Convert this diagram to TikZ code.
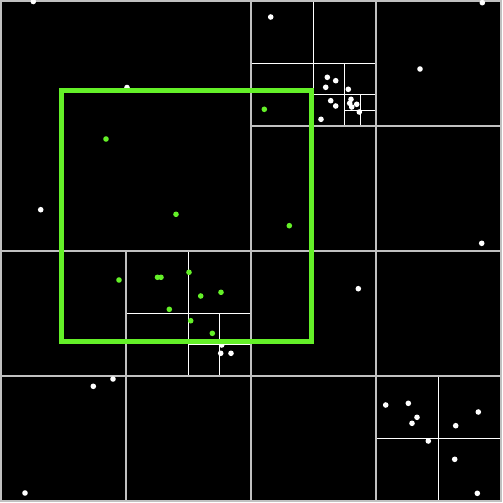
\documentclass[tikz,border=0pt]{standalone}
\definecolor{qgreen}{RGB}{100,240,40}
\definecolor{qgray}{RGB}{192,192,192}
\tikzset{
  majorline/.style={draw=qgray, line width=0.04cm},
  minorline/.style={draw=white, line width=0.02cm},
  wdot/.style={fill=white},
  gdot/.style={fill=qgreen},
  queryrect/.style={draw=qgreen, line width=0.1cm},
}
\begin{document}
\begin{tikzpicture}[x=0.02cm, y=-0.02cm]
\useasboundingbox (0,0) rectangle (503,503);
\fill[white] (0,0) rectangle (503,503);
\fill[black] (0,0) rectangle (502,502);
\begin{scope}[shift={(1,1)}]
% minor subdivisions
\draw[minorline] (312.5,0) -- (312.5,125) (250,62.5) -- (375,62.5);
\draw[minorline] (343.75,62.5) -- (343.75,125) (312.5,93.75) -- (375,93.75);
\draw[minorline] (359.375,93.75) -- (359.375,125) (343.75,109.375) -- (375,109.375);
\draw[minorline] (187.5,250) -- (187.5,375) (125,312.5) -- (250,312.5);
\draw[minorline] (218.75,312.5) -- (218.75,375) (187.5,343.75) -- (250,343.75);
\draw[minorline] (437.5,375) -- (437.5,500) (375,437.5) -- (500,437.5);
% major lines
\draw[majorline] (250,0) -- (250,500) (0,250) -- (500,250);
\draw[majorline] (375,0) -- (375,500) (0,375) -- (500,375);
\draw[majorline] (250,125) -- (500,125) (125,250) -- (125,500);
\draw[majorline] (0,0) rectangle (500,500);
\end{scope}
% points outside the query range
\foreach \p in {(33.3,1.5),(270.7,17),(482.3,2.7),(127,87.5),(420,69),
  (327.3,77.3),(335.7,80.7),(325.7,87.3),(348.3,89.3),(330.7,100.7),
  (335.7,106),(351,99.3),(349.7,103.3),(351.7,107),(356.7,104.3),
  (359.3,112),(321,119.3),(40.7,209.7),(481.7,243.3),(358.3,288.7),
  (221.7,345),(220.7,353.3),(231,353.3),(113,379),(93.3,386.3),(25,493),
  (385.7,405),(408.3,403.3),(417,417.3),(412,423.3),(428.3,441),
  (455.7,425.7),(478.3,412),(454.7,459.3),(477.3,493.3)}
  \fill[wdot] \p circle[radius=0.056cm];
% points inside the query range
\foreach \p in {(264.3,109.3),(106,139),(176,214.3),(289.3,225.7),
  (119,280),(157.5,277.3),(161,277.3),(189,272.3),(200.7,296),
  (221,292.3),(169.3,309.3),(190.7,320.7),(212.3,333.3)}
  \fill[gdot] \p circle[radius=0.056cm];
% query range
\draw[queryrect] (61,91) rectangle (311,341);
\end{tikzpicture}
\end{document}
